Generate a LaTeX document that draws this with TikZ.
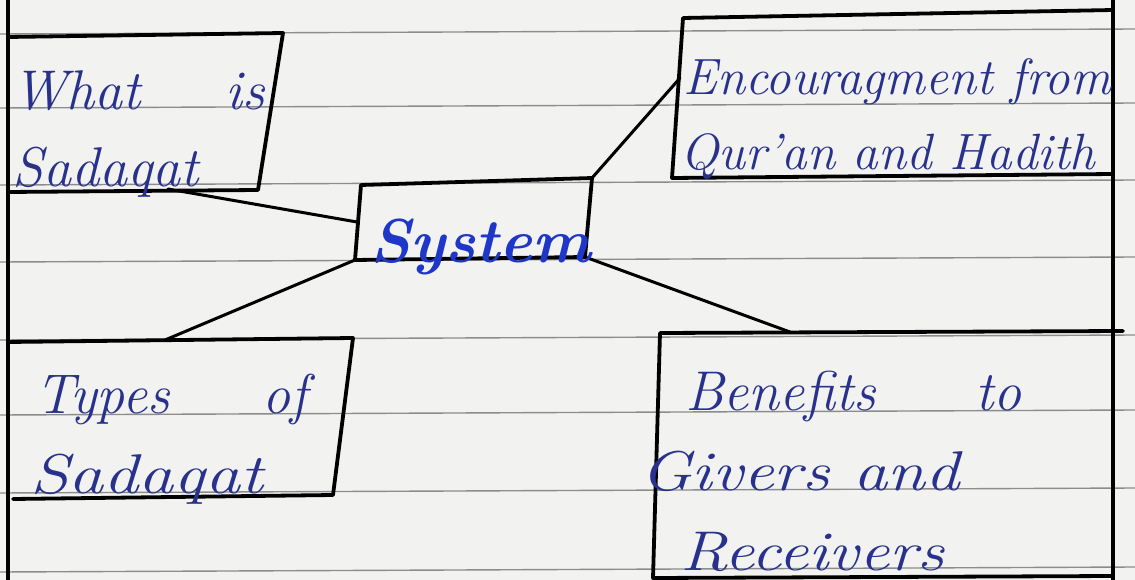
\documentclass[tikz,border=0pt]{standalone}
\usepackage{fontspec}
\definecolor{inkblue}{RGB}{40,50,140}
\definecolor{sysblue}{RGB}{30,55,200}
\definecolor{paper}{RGB}{242,242,240}
\definecolor{rulegray}{RGB}{140,140,140}
\begin{document}
\begin{tikzpicture}[x=1pt,y=-1pt,
  box/.style={line width=3.8pt, line join=round, line cap=round, draw=black},
  link/.style={line width=3pt, line cap=round, draw=black},
  rulel/.style={line width=1.4pt, draw=rulegray},
  ink/.style={text=inkblue, font=\fontsize{56}{64}\selectfont\itshape, anchor=base west, inner sep=0pt},
  sys/.style={text=sysblue, font=\fontsize{62}{70}\selectfont\bfseries\itshape, anchor=base west, inner sep=0pt}]
\useasboundingbox (0,0) rectangle (1135,580);
\fill[paper] (0,0) rectangle (1135,580);
% ruled lines of the page
\foreach \yy in {34,108,185,262,340,415,493,572}
  \draw[rulel] (0,\yy) -- (1135,{\yy-5});
% page margins
\coordinate (pTL) at (8,0);   \coordinate (pBL) at (8,580);
\coordinate (pTR) at (1113,0); \coordinate (pBR) at (1113,580);
\draw[box] (pTL) -- (pBL);
\draw[box] (pTR) -- (pBR);
% box: What is Sadaqat
\coordinate (wA) at (8,37);  \coordinate (wB) at (283,33);
\coordinate (wC) at (258,190); \coordinate (wD) at (8,192);
\coordinate (wE) at (168,189);
\draw[box] (wA) -- (wB) -- (wC) -- (wD);
% box: System
\coordinate (sA) at (361,185); \coordinate (sB) at (592,178);
\coordinate (sC) at (585,257); \coordinate (sD) at (355,260);
\coordinate (sL) at (357,222);
\draw[box] (sA) -- (sB) -- (sC) -- (sD) -- cycle;
% box: Encouragment
\coordinate (eA) at (683,18);  \coordinate (eB) at (1113,10);
\coordinate (eC) at (1113,174); \coordinate (eD) at (672,178);
\coordinate (eL) at (680,78);
\draw[box] (eB) -- (eA) -- (eD) -- (eC);
% box: Types of Sadaqat
\coordinate (tA) at (8,342);  \coordinate (tB) at (353,338);
\coordinate (tC) at (333,495); \coordinate (tD) at (13,499);
\coordinate (tE) at (165,340);
\draw[box] (tA) -- (tB) -- (tC) -- (tD);
% box: Benefits
\coordinate (bA) at (660,333); \coordinate (bB) at (1123,331);
\coordinate (bD) at (653,578); \coordinate (bC) at (1113,576);
\coordinate (bE) at (790,332);
\draw[box] (bB) -- (bA) -- (bD) -- (bC);
% connectors
\draw[link] (wE) -- (sL);
\draw[link] (sB) -- (eL);
\draw[link] (tE) -- (sD);
\draw[link] (sC) -- (bE);
% texts
\node[ink] (w1) at (12,110) {What};
\node[ink] (w2) at (225,110) {is};
\node[ink] (w3) at (12,187) {Sadaqat};
\node[sys] (s1) at (370,262) {System};
\node[ink,font=\fontsize{51}{60}\selectfont\itshape] (e1) at (683,95) {Encouragment from};
\node[ink,font=\fontsize{51}{60}\selectfont\itshape] (e2) at (680,170) {Qur'an and Hadith};
\node[ink] (t1) at (35,413) {Types};
\node[ink] (t2) at (262,413) {of};
\node[ink] (t3) at (30,493) {\scalebox{1.25}[1]{Sadaqat}};
\node[ink] (b1) at (685,410) {Benefits};
\node[ink] (b2) at (975,410) {to};
\node[ink] (b3) at (640,490) {\scalebox{1.22}[1]{Givers and}};
\node[ink] (b4) at (680,570) {\scalebox{1.2}[1]{Receivers}};
\end{tikzpicture}
\end{document}
